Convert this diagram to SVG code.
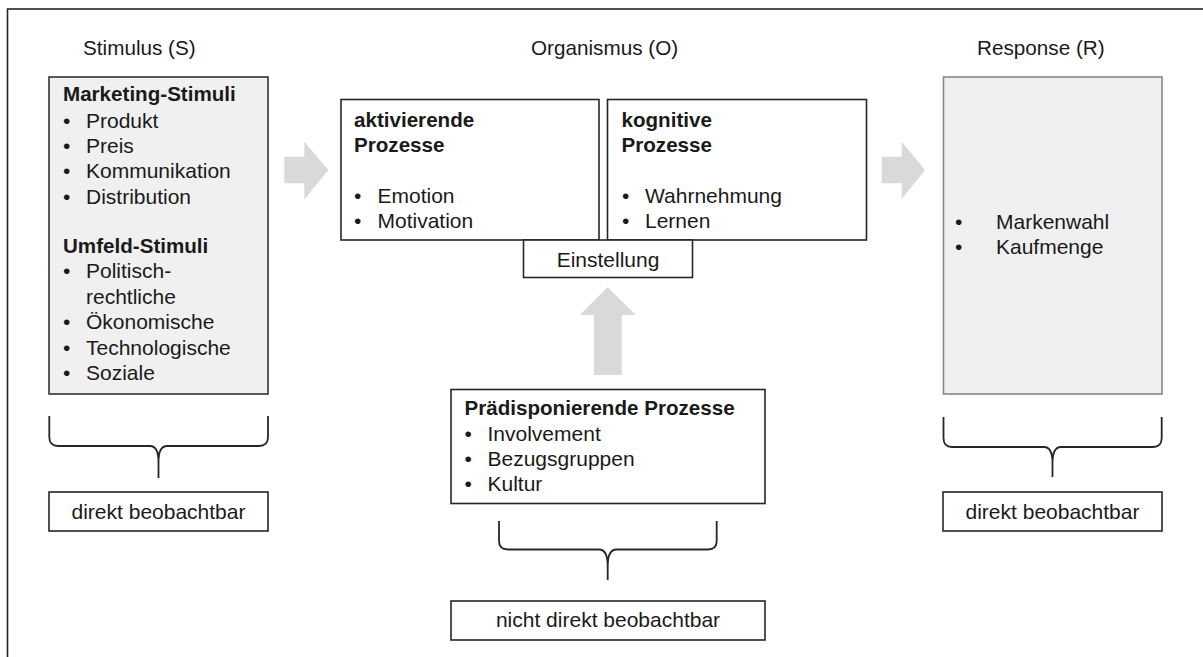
<svg xmlns="http://www.w3.org/2000/svg" width="1203" height="657" viewBox="0 0 1203 657">
<style>
text{font-family:"Liberation Sans",Arial,sans-serif;font-size:21px;fill:#1a1a1a}
.b{font-weight:bold;font-size:20.6px}
.h{font-size:20.7px}
.box{fill:#fff;stroke:#262626;stroke-width:1.6}
.gbox{fill:#f0f0f0;stroke:#333;stroke-width:1.6}
.rbox{fill:#f0f0f0;stroke:#888;stroke-width:1.6}
.arrow{fill:#d9d9d9;stroke:none}
.brace{fill:none;stroke:#262626;stroke-width:1.8}
.c{text-anchor:middle}
</style>
<rect x="0" y="0" width="1203" height="657" fill="#fff"/>
<rect x="7.5" y="9" width="1210" height="670" fill="none" stroke="#262626" stroke-width="1.6"/>

<g id="header-s"><text class="h" x="83" y="55">Stimulus (S)</text></g>
<g id="header-o"><text class="h" x="531" y="55">Organismus (O)</text></g>
<g id="header-r"><text class="h" x="977" y="55">Response (R)</text></g>

<g id="stimulus">
<rect class="gbox" x="49" y="77" width="219" height="317"/>
<text class="b" x="63" y="101">Marketing-Stimuli</text>
<text x="63" y="127.5">•</text><text x="86" y="127.5">Produkt</text>
<text x="63" y="152.5">•</text><text x="86" y="152.5">Preis</text>
<text x="63" y="178">•</text><text x="86" y="178">Kommunikation</text>
<text x="63" y="203.5">•</text><text x="86" y="203.5">Distribution</text>
<text class="b" x="63" y="252.5">Umfeld-Stimuli</text>
<text x="63" y="278">•</text><text x="86" y="278">Politisch-</text>
<text x="86" y="303.5">rechtliche</text>
<text x="63" y="329">•</text><text x="86" y="329">Ökonomische</text>
<text x="63" y="354.5">•</text><text x="86" y="354.5">Technologische</text>
<text x="63" y="380">•</text><text x="86" y="380">Soziale</text>
</g>

<g id="aktivierende">
<rect class="box" x="341" y="99.5" width="258" height="140.5"/>
<text class="b" x="354" y="127">aktivierende</text>
<text class="b" x="354" y="152">Prozesse</text>
<text x="354" y="203">•</text><text x="377.5" y="203">Emotion</text>
<text x="354" y="228">•</text><text x="377.5" y="228">Motivation</text>
</g>

<g id="kognitive">
<rect class="box" x="607.5" y="99.5" width="259" height="140.5"/>
<text class="b" x="621.5" y="127">kognitive</text>
<text class="b" x="621.5" y="152">Prozesse</text>
<text x="622" y="203">•</text><text x="645" y="203">Wahrnehmung</text>
<text x="622" y="228">•</text><text x="645" y="228">Lernen</text>
</g>

<g id="einstellung">
<rect class="box" x="523.5" y="240" width="169" height="37.5"/>
<text class="c" x="608" y="267">Einstellung</text>
</g>

<g id="response">
<rect class="rbox" x="943.5" y="77" width="218.5" height="317"/>
<text x="955" y="228.5">•</text><text x="996" y="228.5">Markenwahl</text>
<text x="955" y="253.5">•</text><text x="996" y="253.5">Kaufmenge</text>
</g>

<g id="praedisponierende">
<rect class="box" x="451" y="389.5" width="314" height="114"/>
<text class="b" x="464.5" y="415">Prädisponierende Prozesse</text>
<text x="464.5" y="441">•</text><text x="487.5" y="441">Involvement</text>
<text x="464.5" y="466">•</text><text x="487.5" y="466">Bezugsgruppen</text>
<text x="464.5" y="491">•</text><text x="487.5" y="491">Kultur</text>
</g>

<g id="label-s">
<rect class="box" x="49" y="492" width="219" height="39"/>
<text class="c" x="158.5" y="518.5">direkt beobachtbar</text>
</g>
<g id="label-r">
<rect class="box" x="943" y="492" width="219" height="39"/>
<text class="c" x="1052.5" y="518.5">direkt beobachtbar</text>
</g>
<g id="label-o">
<rect class="box" x="451" y="601" width="314" height="39"/>
<text class="c" x="608" y="627">nicht direkt beobachtbar</text>
</g>

<g id="connectors">
<path class="arrow" d="M284.3,156.7 H304.3 V141.7 L328.3,170 L304.3,199.5 V183.3 H284.3 Z"/>
<path class="arrow" d="M881.7,156.7 H901.7 V141.7 L925,170 L901.7,199 V183.3 H881.7 Z"/>
<path class="arrow" d="M594,375 V315 H580 L607.7,287.3 L635.7,315 H621.7 V375 Z"/>
<path class="brace" d="M49.3,416 V437 Q49.3,446 58,446 H150 Q158.5,446 158.5,462 V478 M268,416 V437 Q268,446 259,446 H167 Q158.5,446 158.5,462"/>
<path class="brace" d="M943.5,417 V438 Q943.5,447 952,447 H1044 Q1052.5,447 1052.5,463 V477 M1161.7,417 V438 Q1161.7,447 1153,447 H1061 Q1052.5,447 1052.5,463"/>
<path class="brace" d="M499,521 V541 Q499,549.5 508,549.5 H599 Q607.7,549.5 607.7,566 V580 M716.7,521 V541 Q716.7,549.5 708,549.5 H616.5 Q607.7,549.5 607.7,566"/>
</g>
</svg>
